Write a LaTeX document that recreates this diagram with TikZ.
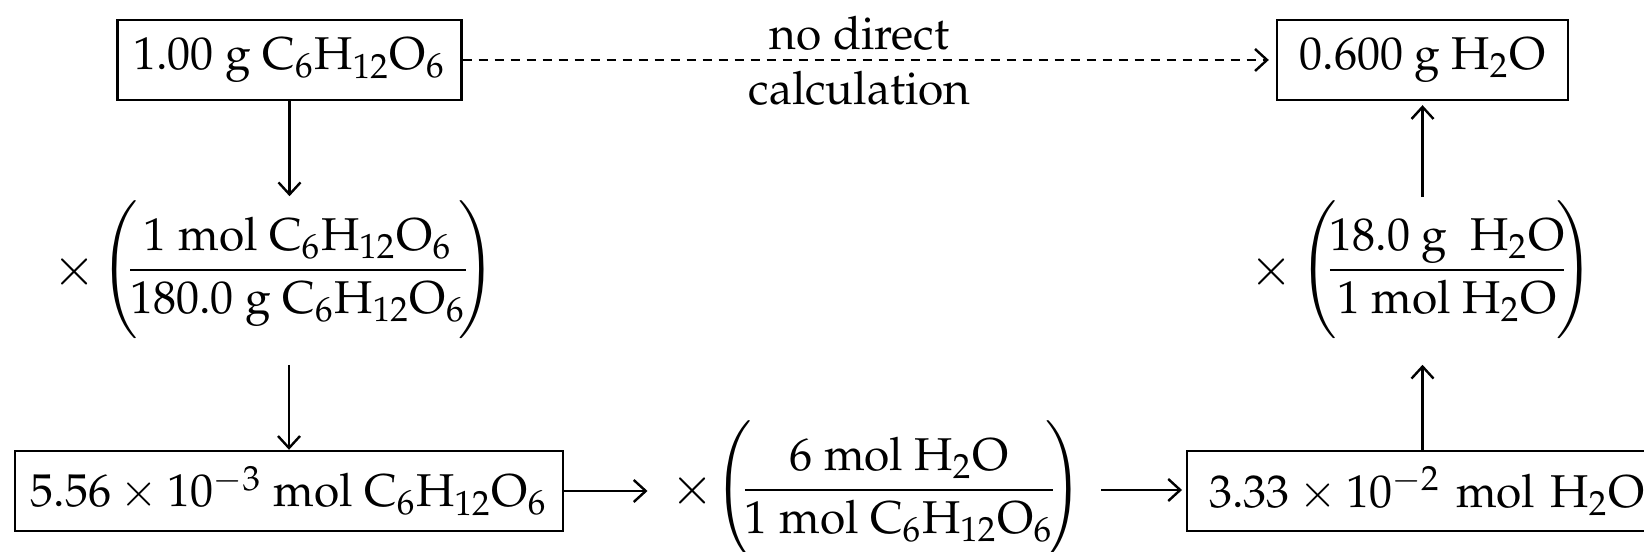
\documentclass[tikz,border=0pt]{standalone}
\usepackage[T1]{fontenc}
\usepackage{mathpazo}
\usepackage{amsmath}
\usetikzlibrary{arrows.meta}
\newcommand{\pfrac}[2]{\left(\vcenter{\hbox{\rule{0pt}{34pt}}}\mkern-5mu\dfrac{#1}{#2}\mkern-5mu\right)}
\begin{document}
\begin{tikzpicture}[x=0.25pt,y=-0.25pt,
  font=\fontsize{11.5}{14}\selectfont,
  box/.style={draw, line width=0.6pt, minimum height=20pt, inner xsep=4pt, inner ysep=2pt},
  arr/.style={line width=0.6pt, -{Straight Barb[length=3pt,width=5.5pt,line width=0.6pt]}},
  fr/.style={inner sep=0pt},
  tm/.style={inner sep=0pt, font=\fontsize{13}{15}\selectfont}]
\useasboundingbox (0,0) rectangle (1644,552);
% boxes
\node[box, minimum width=85.25pt] (tl) at (289.5,60) {$\mathrm{1.00\ g\ C_6H_{12}O_6}$};
\node[box, minimum width=72.75pt] (tr) at (1422.5,60) {$\mathrm{0.600\ g\ H_2O}$};
\node[box, minimum width=137pt] (bl) at (289,491) {$5.56\times10^{-3}\ \mathrm{mol\ C_6H_{12}O_6}$};
\node[box, inner xsep=5.5pt, text width=112pt, align=left, anchor=west] (br) at (1186,491) {$3.33\times10^{-2}\ \mathrm{mol\ H_2O}$};
% conversion factors
\node[tm] (lx) at (75,272) {$\times$};
\node[fr] (lf) at (298,270) {$\pfrac{\mathrm{1\ mol\ C_6H_{12}O_6}}{\mathrm{180.0\ g\ C_6H_{12}O_6}}$};
\node[tm] (mx) at (693,491) {$\times$};
\node[fr] (mf) at (899,490) {$\pfrac{\mathrm{6\ mol\ H_2O}}{\mathrm{1\ mol\ C_6H_{12}O_6}}$};
\node[tm] (rx) at (1272,272) {$\times$};
\node[fr] (rf) at (1447,270) {$\pfrac{\mathrm{18.0\ g\ \ H_2O}}{\mathrm{1\ mol\ H_2O}}$};
% connectors
\draw[arr, line width=0.65pt, dash pattern=on 2.4pt off 1.6pt, shorten >=1.75pt] (tl.east) --
  node[pos=0.488, above, inner sep=2pt] {no direct}
  node[pos=0.488, below, inner sep=2.5pt] {calculation} (tr.west);
\draw[arr, shorten >=1pt] (tl.south) -- (tl.south |- lf.north);
\draw[arr, shorten <=6.25pt] (bl.north |- lf.south) -- (bl.north);
\draw[arr, shorten >=5.75pt] (bl.east) -- (bl.east -| mx.west);
\draw[arr, shorten <=4.5pt, shorten >=1pt] (mf.east) -- (mf.east -| br.west);
\draw[arr, shorten >=6.25pt] (br.north -| tr.south) -- (tr.south |- rf.south);
\draw[arr, shorten <=0.75pt, shorten >=1pt] (tr.south |- rf.north) -- (tr.south);
\end{tikzpicture}
\end{document}
